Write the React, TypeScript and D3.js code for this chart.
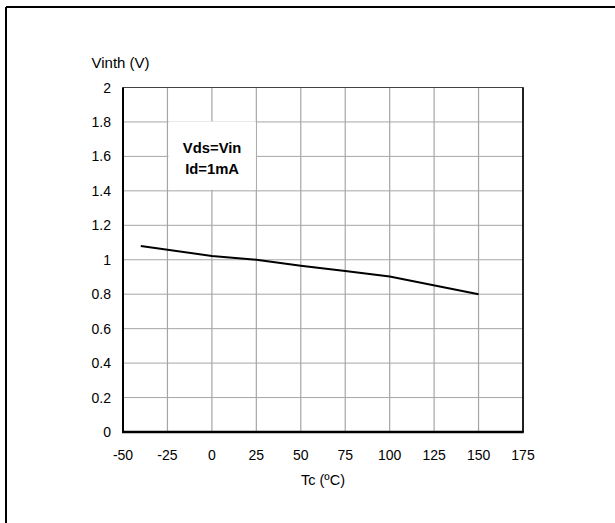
import React from "react";
import * as d3 from "d3";

const tempC = [-40, 0, 25, 50, 75, 100, 150];
const vinth = [1.08, 1.022, 1.0, 0.965, 0.935, 0.903, 0.8];
const xTicks = [-50, -25, 0, 25, 50, 75, 100, 125, 150, 175];
const yTicks = [0, 0.2, 0.4, 0.6, 0.8, 1, 1.2, 1.4, 1.6, 1.8, 2];
const yLabel = "Vinth (V)";
const xLabel = "Tc (ºC)";
const noteLines = ["Vds=Vin", "Id=1mA"];

const W = 615;
const H = 523;
const plot = { left: 123, right: 523, top: 87.5, bottom: 432 };
const font = "Arial, 'Liberation Sans', sans-serif";

export default function App() {
  const x = d3.scaleLinear().domain([-50, 175]).range([plot.left, plot.right]);
  const y = d3.scaleLinear().domain([0, 2]).range([plot.bottom, plot.top]);
  const pts: [number, number][] = tempC.map((t, i) => [t, vinth[i]]);
  const line = d3
    .line<[number, number]>()
    .x((d) => x(d[0]))
    .y((d) => y(d[1]));

  const boxX0 = x(-25) + 1;
  const boxX1 = x(25) - 0.5;
  const boxY0 = y(1.8) - 0.5;
  const boxY1 = y(1.4) - 1;

  return (
    <svg
      width={W}
      height={H}
      style={{ position: "absolute", left: 0, top: 0, background: "#fff" }}
      fontFamily={font}
    >
      <rect x={0} y={0} width={W} height={H} fill="#fff" />
      {/* outer frame */}
      <line x1={6} y1={7} x2={W} y2={7} stroke="#000" strokeWidth={2} />
      <line x1={6} y1={7} x2={6} y2={H} stroke="#000" strokeWidth={2} />

      {/* grid */}
      {xTicks.map((t) => (
        <line
          key={"gx" + t}
          x1={x(t)}
          x2={x(t)}
          y1={plot.top}
          y2={plot.bottom}
          stroke="#a6a6a6"
          strokeWidth={1.2}
        />
      ))}
      {yTicks.map((t) => (
        <line
          key={"gy" + t}
          x1={plot.left}
          x2={plot.right}
          y1={y(t)}
          y2={y(t)}
          stroke="#a6a6a6"
          strokeWidth={1}
        />
      ))}
      {/* plot border */}
      <rect
        x={plot.left}
        y={plot.top}
        width={plot.right - plot.left}
        height={plot.bottom - plot.top}
        fill="none"
        stroke="#444"
        strokeWidth={1}
      />
      <line x1={plot.right} x2={plot.right} y1={plot.top} y2={plot.bottom} stroke="#000" strokeWidth={1.5} />
      <line x1={plot.left} x2={plot.left} y1={plot.top} y2={plot.bottom} stroke="#000" strokeWidth={2} />
      <line x1={plot.left - 1} x2={plot.right + 0.75} y1={plot.bottom} y2={plot.bottom} stroke="#000" strokeWidth={2.5} />

      {/* note box */}
      <rect x={boxX0} y={boxY0} width={boxX1 - boxX0} height={boxY1 - boxY0} fill="#fff" />
      {noteLines.map((s, i) => (
        <text
          key={s}
          x={(boxX0 + boxX1) / 2}
          y={153 + i * 20.5}
          textAnchor="middle"
          fontSize={14.8}
          fontWeight="bold"
          fill="#000"
        >
          {s}
        </text>
      ))}

      {/* data line */}
      <path d={line(pts) || ""} fill="none" stroke="#000" strokeWidth={2} />

      {/* tick labels */}
      {yTicks.map((t) => (
        <text
          key={"ty" + t}
          x={plot.left - 12}
          y={y(t) + 5}
          textAnchor="end"
          fontSize={14}
          fill="#000"
        >
          {d3.format("~g")(t)}
        </text>
      ))}
      {xTicks.map((t) => (
        <text
          key={"tx" + t}
          x={x(t)}
          y={459.5}
          textAnchor="middle"
          fontSize={14}
          fill="#000"
        >
          {t}
        </text>
      ))}
      <text x={91.5} y={67.5} fontSize={15} fill="#000">
        {yLabel}
      </text>
      <text x={(plot.left + plot.right) / 2} y={484.5} textAnchor="middle" fontSize={14.5} fill="#000">
        {xLabel}
      </text>
    </svg>
  );
}
